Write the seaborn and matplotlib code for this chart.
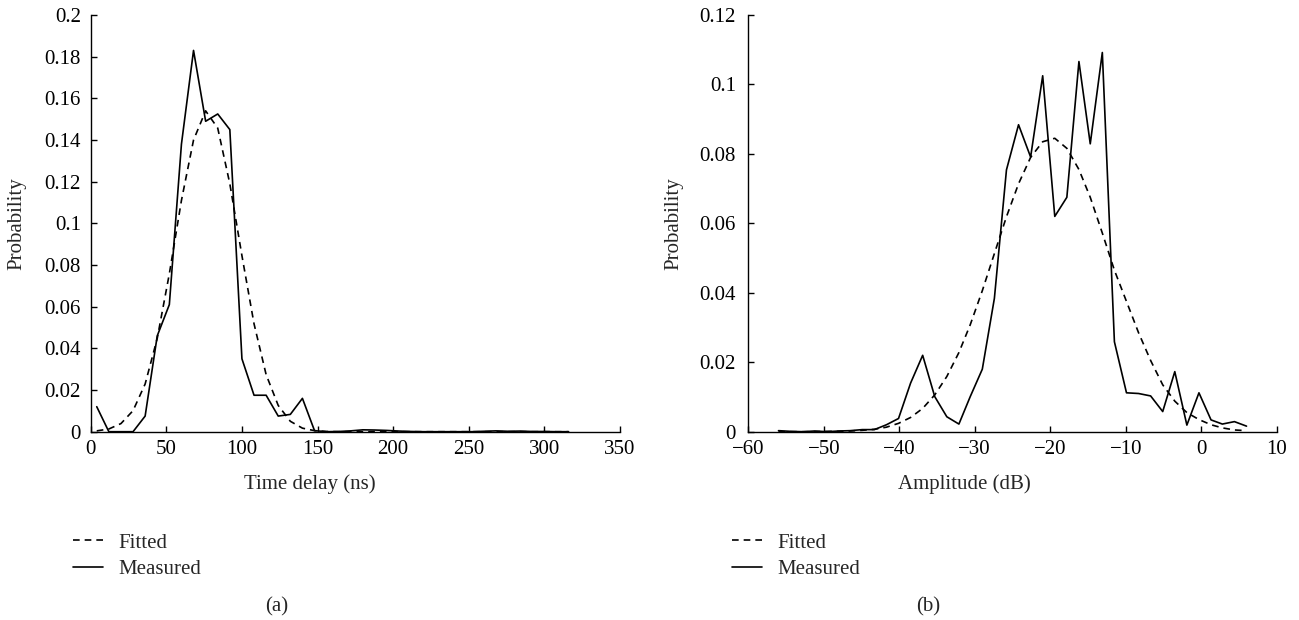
import numpy as np
import pandas as pd
import matplotlib
matplotlib.use("Agg")
import matplotlib.pyplot as plt
import seaborn as sns

# ---- data (a): time delay ----
delay_ns = [4, 12, 20, 28, 36, 44, 52, 60, 68, 76, 84, 92, 100, 108, 116, 124,
            132, 140, 148, 156, 164, 172, 180, 188, 196, 204, 212, 220, 228, 236,
            244, 252, 260, 268, 276, 284, 292, 300, 308, 316]
delay_measured = [0.012, 0.0, 0.0, 0.0, 0.0075, 0.046, 0.061, 0.138, 0.183, 0.149,
                  0.1525, 0.145, 0.035, 0.0175, 0.0175, 0.0075, 0.0083, 0.016, 0.0005, 0.0,
                  0.0001, 0.0004, 0.0009, 0.0008, 0.0006, 0.0003, 0.0001, 0.0, 0.0, 0.0,
                  0.0, 0.0, 0.0002, 0.0004, 0.0002, 0.0003, 0.0001, 0.0001, 0.0, 0.0]
delay_fitted = [0.0004, 0.0013, 0.0039, 0.0101, 0.0229, 0.0448, 0.0758, 0.111, 0.140, 0.154,
                0.1457, 0.119, 0.0845, 0.0518, 0.0274, 0.0126, 0.005, 0.0017, 0.0005, 0.0001,
                0.0, 0.0, 0.0, 0.0, 0.0, 0.0, 0.0, 0.0, 0.0, 0.0,
                0.0, 0.0, 0.0, 0.0, 0.0, 0.0, 0.0, 0.0, 0.0, 0.0]

# ---- data (b): amplitude ----
amp_db = [-56.0, -54.4, -52.8, -51.2, -49.6, -48.0, -46.5, -44.9, -43.3, -41.7,
          -40.1, -38.5, -36.9, -35.3, -33.7, -32.1, -30.6, -29.0, -27.4, -25.8,
          -24.2, -22.6, -21.0, -19.4, -17.8, -16.2, -14.7, -13.1, -11.5, -9.9,
          -8.3, -6.7, -5.1, -3.5, -1.9, -0.3, 1.3, 2.8, 4.4, 6.0]
amp_measured = [0.0003, 0.0001, 0.0, 0.0002, 0.0, 0.0002, 0.0003, 0.0006, 0.0006, 0.002,
                0.0038, 0.014, 0.022, 0.0101, 0.0043, 0.0022, 0.0101, 0.018, 0.0384, 0.0754,
                0.0884, 0.0791, 0.1025, 0.062, 0.0675, 0.1066, 0.0829, 0.1092, 0.0259, 0.0112,
                0.011, 0.0103, 0.0058, 0.0173, 0.0019, 0.0112, 0.0034, 0.0022, 0.0029, 0.0016]
amp_fitted = [0.0, 0.0, 0.0, 0.0, 0.0001, 0.0001, 0.0002, 0.0004, 0.0007, 0.0013,
              0.0024, 0.0041, 0.0067, 0.0106, 0.0159, 0.0228, 0.0308, 0.0406, 0.0513, 0.0619,
              0.0714, 0.079, 0.0835, 0.0845, 0.0816, 0.0755, 0.0675, 0.0572, 0.0465, 0.0375,
              0.0285, 0.0205, 0.0135, 0.0088, 0.0055, 0.0035, 0.002, 0.0011, 0.0005, 0.0003]

delay_xticks = [0, 50, 100, 150, 200, 250, 300, 350]
delay_yticks = [0, 0.02, 0.04, 0.06, 0.08, 0.1, 0.12, 0.14, 0.16, 0.18, 0.2]
delay_ylabels = ["0", "0.02", "0.04", "0.06", "0.08", "0.1", "0.12", "0.14", "0.16", "0.18", "0.2"]
amp_xticks = [-60, -50, -40, -30, -20, -10, 0, 10]
amp_xlabels = ["\u221260", "\u221250", "\u221240", "\u221230", "\u221220", "\u221210", "0", "10"]
amp_yticks = [0, 0.02, 0.04, 0.06, 0.08, 0.1, 0.12]
amp_ylabels = ["0", "0.02", "0.04", "0.06", "0.08", "0.1", "0.12"]

sns.set_style("ticks")
plt.rcParams["font.family"] = ["Liberation Serif", "DejaVu Serif"]

FS = 15
fig = plt.figure(figsize=(12.99, 6.2), dpi=100)
W, H = 1299, 620

def make_ax(left_px, right_px):
    return fig.add_axes([left_px / W, (H - 431.7) / H,
                         (right_px - left_px) / W, (431.7 - 15) / H])

ax1 = make_ax(90.7, 620.0)
ax2 = make_ax(748.3, 1276.7)

df1 = pd.DataFrame({"x": delay_ns * 2,
                    "y": delay_fitted + delay_measured,
                    "kind": ["Fitted"] * len(delay_ns) + ["Measured"] * len(delay_ns)})
df2 = pd.DataFrame({"x": amp_db * 2,
                    "y": amp_fitted + amp_measured,
                    "kind": ["Fitted"] * len(amp_db) + ["Measured"] * len(amp_db)})

for ax, df, ypad in [(ax1, df1, 7), (ax2, df2, 9)]:
    for kind in ["Fitted", "Measured"]:
        sub = df[df["kind"] == kind]
        sns.lineplot(data=sub, x="x", y="y", ax=ax, color="black", lw=1.2,
                     label=kind, estimator=None, sort=False)
    lines = ax.get_lines()
    lines[0].set_linestyle((0, (4, 3)))
    lines[1].set_linestyle("-")
    sns.despine(ax=ax)
    ax.tick_params(direction="in", length=4, width=1, labelsize=FS, colors="black")
    ax.tick_params(axis="y", pad=ypad)
    ax.tick_params(axis="x", pad=6)
    for sp in ["left", "bottom"]:
        ax.spines[sp].set_color("black")
        ax.spines[sp].set_linewidth(1.0)
    ax.set_ylabel("Probability", fontsize=FS)
    ax.yaxis.set_label_coords(-0.122, 0.5)

ax1.set_xlim(0, 350)
ax1.set_ylim(0, 0.2)
ax1.set_xticks(delay_xticks)
ax1.set_yticks(delay_yticks)
ax1.set_yticklabels(delay_ylabels)
ax1.set_xlabel("Time delay (ns)", fontsize=FS)
ax1.xaxis.set_label_coords(0.414, -0.102)

ax2.set_xlim(-60, 10)
ax2.set_ylim(0, 0.12)
ax2.set_xticks(amp_xticks)
ax2.set_xticklabels(amp_xlabels)
ax2.set_yticks(amp_yticks)
ax2.set_yticklabels(amp_ylabels)
ax2.set_xlabel("Amplitude (dB)", fontsize=FS)
ax2.xaxis.set_label_coords(0.408, -0.102)

for ax, lx, tag, tx in [(ax1, 73, "(a)", 277), (ax2, 732, "(b)", 928)]:
    ax.legend(loc="upper left", bbox_to_anchor=(lx / W, 1 - 533 / H),
              bbox_transform=fig.transFigure, frameon=False, fontsize=FS,
              handlelength=1.45, handletextpad=0.75, labelspacing=0.35,
              borderpad=0, borderaxespad=0)
    fig.text(tx / W, 1 - 607 / H, tag, ha="center", va="center", fontsize=FS)

fig.savefig("out.png", dpi=100)
